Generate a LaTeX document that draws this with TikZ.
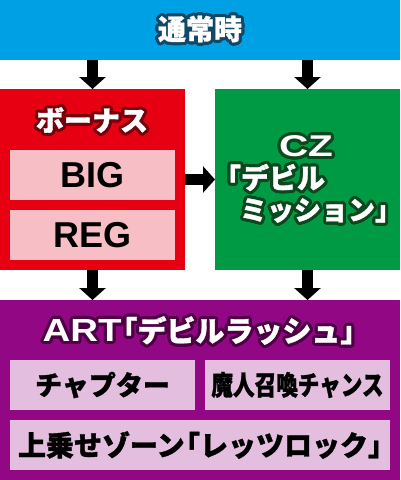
\documentclass[tikz,border=0pt]{standalone}
\usepackage{fontspec}
\setmainfont{Liberation Sans}
\newfontfamily\jp{Noto Sans CJK JP}[BoldFeatures={FakeBold=1.2}]
\usepackage{contour}
\contourlength{3pt}
\contournumber{32}
\usetikzlibrary{arrows.meta}
\definecolor{cblue}{RGB}{0,160,228}
\definecolor{cred}{RGB}{230,0,18}
\definecolor{cgreen}{RGB}{0,153,68}
\definecolor{cpurple}{RGB}{146,7,131}
\definecolor{cpink}{RGB}{247,190,198}
\definecolor{clav}{RGB}{228,190,222}
\definecolor{oblue}{RGB}{16,72,104}
\definecolor{ored}{RGB}{118,0,12}
\definecolor{ogreen}{RGB}{10,72,30}
\definecolor{opurple}{RGB}{78,0,68}
\begin{document}
\begin{tikzpicture}[x=1pt,y=-1pt,
  panel/.style={draw=none, inner sep=0pt, outer sep=0pt},
  ttl/.style={text=white, inner sep=0pt, font={\jp\bfseries\fontsize{28pt}{28pt}\selectfont}},
  body/.style={text=black, font={\jp\bfseries\fontsize{27pt}{27pt}\selectfont}},
  latin/.style={text=black, font={\bfseries\fontsize{36pt}{36pt}\selectfont}},
  arr/.style={line width=11pt, -{Triangle[width=26pt,length=12pt]}, black}]
\useasboundingbox (0,0) rectangle (400,480);
\fill[white] (0,0) rectangle (400,480);
% top
\node[panel, fill=cblue, minimum width=400pt, minimum height=60pt] (normal) at (200,30) {};
\node[ttl] (normaltxt) at (200,30.5) {\contour{oblue}{通常時}};
% bonus
\node[panel, fill=cred, minimum width=185pt, minimum height=181pt] (bonus) at (92.5,179.5) {};
\node[ttl] (bonustxt) at (92,121.5) {\contour{ored}{ボーナス}};
\node[panel, fill=cpink, minimum width=165pt, minimum height=50pt, latin] (big) at (92.5,175) {BIG};
\node[panel, fill=cpink, minimum width=165pt, minimum height=50pt, latin] (reg) at (92.5,235) {REG};
% CZ
\node[panel, fill=cgreen, minimum width=185pt, minimum height=181pt] (cz) at (307.5,179.5) {};
\node[ttl, font={\bfseries\fontsize{30pt}{30pt}\selectfont}] (cztxt) at (306,148) {\contour{ogreen}{\scalebox{1.35}[1]{CZ}}};
\node[ttl] (czl1) at (269,179) {\contour{ogreen}{「デビル}};
\node[ttl, font={\jp\bfseries\fontsize{27pt}{27pt}\selectfont}] (czl2) at (321,212) {\contour{ogreen}{ミッション」}};
% ART
\node[panel, fill=cpurple, minimum width=400pt, minimum height=180pt] (art) at (200,390) {};
\node[ttl, font={\jp\bfseries\fontsize{29pt}{29pt}\selectfont}] (arttxt) at (206,332) {\contour{opurple}{{\rmfamily\bfseries\fontsize{32pt}{32pt}\selectfont\scalebox{1.2}[1]{ART}}\kern-0.45em 「デビルラッシュ」}};
\node[panel, fill=clav, minimum width=185pt, minimum height=50pt, body] (chap) at (102.5,385) {チャプター};
\node[panel, fill=clav, minimum width=185pt, minimum height=50pt, body] (majin) at (297.5,385) {\scalebox{0.8}[1]{魔人召喚チャンス}};
\node[panel, fill=clav, minimum width=380pt, minimum height=50pt, body, font={\jp\bfseries\fontsize{28pt}{28pt}\selectfont}] (uwa) at (200,445) {上乗せゾーン\kern-0.45em「レッツロック」\kern-0.5em};
% arrows
\draw[arr] (normal.south -| bonus.north) -- (bonus.north);
\draw[arr] (normal.south -| cz.north) -- (cz.north);
\draw[arr] (bonus.east) -- (cz.west);
\draw[arr] (bonus.south) -- (bonus.south |- art.north);
\draw[arr] (cz.south) -- (cz.south |- art.north);
\end{tikzpicture}
\end{document}
